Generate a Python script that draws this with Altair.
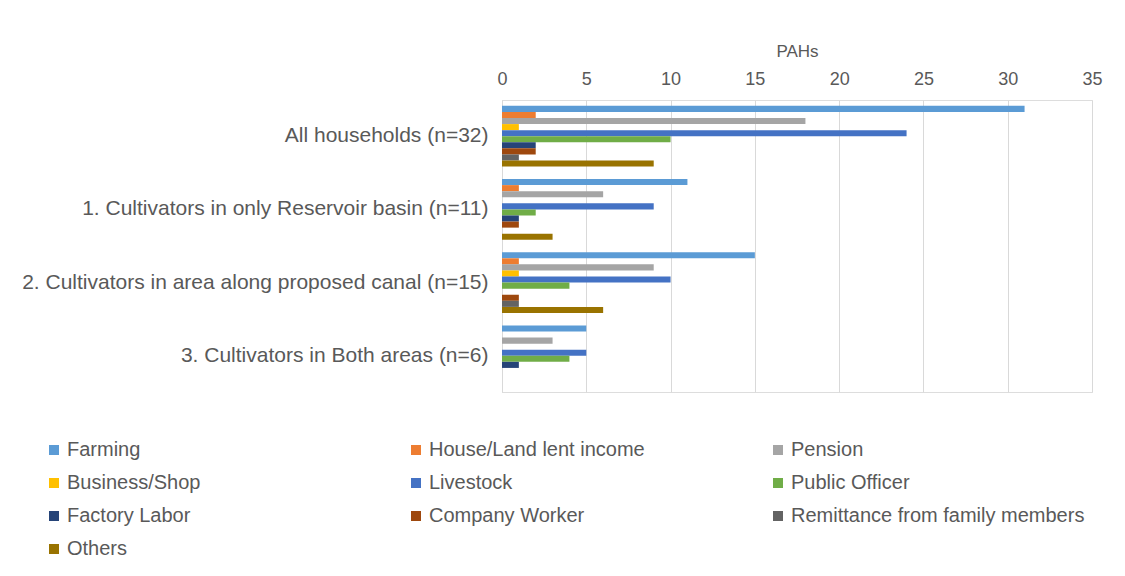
import altair as alt
import pandas as pd

groups = [
    "All households (n=32)",
    "1. Cultivators in only Reservoir basin (n=11)",
    "2. Cultivators in area along proposed canal (n=15)",
    "3. Cultivators in Both areas (n=6)",
]
series = [
    "Farming", "House/Land lent income", "Pension", "Business/Shop", "Livestock",
    "Public Officer", "Factory Labor", "Company Worker", "Remittance from family members", "Others",
]
colors = ["#5B9BD5", "#ED7D31", "#A5A5A5", "#FFC000", "#4472C4",
          "#70AD47", "#264478", "#9E480E", "#636363", "#997300"]

all_households = [31, 2, 18, 1, 24, 10, 2, 2, 1, 9]
reservoir_only = [11, 1, 6, 0, 9, 2, 1, 1, 0, 3]
canal_area = [15, 1, 9, 1, 10, 4, 0, 1, 1, 6]
both_areas = [5, 0, 3, 0, 5, 4, 1, 0, 0, 0]

values = [all_households, reservoir_only, canal_area, both_areas]
rows = []
for g, vals in zip(groups, values):
    for s, v in zip(series, vals):
        rows.append({"group": g, "series": s, "value": v})
df = pd.DataFrame(rows)

FONT = "Liberation Sans"
GRAY = "#595959"

chart = alt.Chart(df).mark_bar().encode(
    x=alt.X("value:Q",
            scale=alt.Scale(domain=[0, 35], nice=False),
            axis=alt.Axis(orient="top", title="PAHs", values=[0, 5, 10, 15, 20, 25, 30, 35],
                          labelFontSize=18, labelColor=GRAY, labelFont=FONT, labelFlush=False,
                          titleFontSize=17, titleColor=GRAY, titleFont=FONT, titleFontWeight="normal",
                          titlePadding=10, labelPadding=12,
                          domain=False, ticks=False, grid=True, gridColor="#D9D9D9", gridWidth=1)),
    y=alt.Y("group:N", sort=groups,
            scale=alt.Scale(paddingInner=0.17, paddingOuter=0.08),
            axis=alt.Axis(title=None, labelFontSize=21, labelColor=GRAY, labelFont=FONT,
                          labelPadding=14, ticks=False, domain=True, domainColor="#D9D9D9",
                          labelLimit=600)),
    yOffset=alt.YOffset("series:N", sort=series, scale=alt.Scale(paddingInner=0, paddingOuter=0)),
    color=alt.Color("series:N", sort=series,
                    scale=alt.Scale(domain=series, range=colors),
                    legend=alt.Legend(title=None, orient="none", legendX=-458, legendY=340,
                                      direction="horizontal",
                                      columns=3, gridAlign="all", columnPadding=45,
                                      rowPadding=13, symbolType="square", symbolSize=100,
                                      symbolStrokeWidth=0,
                                      labelFontSize=20, labelColor=GRAY, labelFont=FONT,
                                      labelLimit=400, labelOffset=3)),
).properties(
    width=590, height=292,
    autosize=alt.AutoSizeParams(type="none"),
    padding={"left": 494, "top": 92, "right": 25, "bottom": 176},
).configure_view(stroke=None).configure(background="white")

chart.save("out.html", embed_options={"renderer": "svg", "actions": False})
